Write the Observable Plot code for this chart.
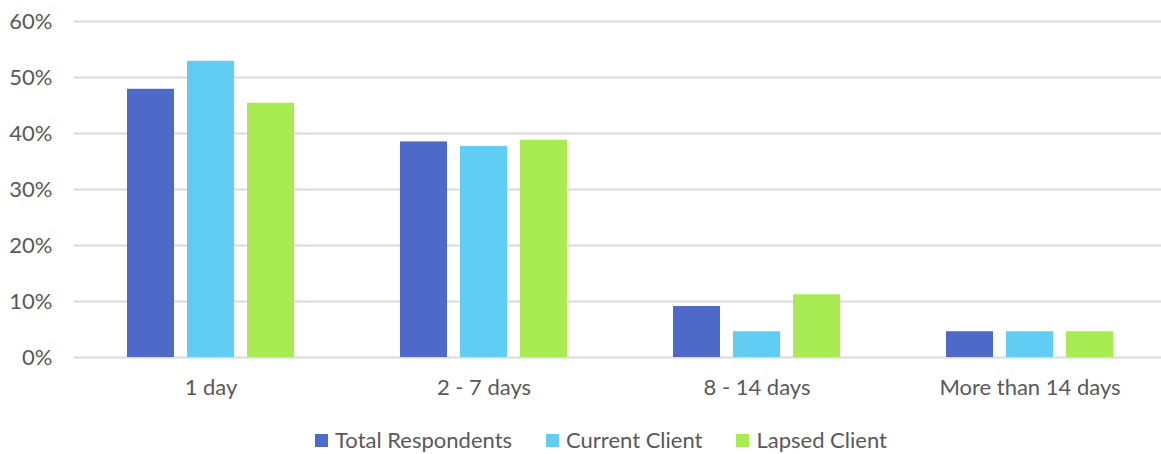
<!DOCTYPE html>
<html>
<head>
<meta charset="utf-8">
<script src="https://cdn.jsdelivr.net/npm/d3@7"></script>
<script src="https://cdn.jsdelivr.net/npm/@observablehq/plot@0.6"></script>
<style>
  html, body { margin: 0; padding: 0; background: #fff; overflow: hidden; }
  #chart { width: 1166px; }
  .legend {
    display: flex; justify-content: center; align-items: center;
    padding-left: 36px; margin-top: 17px; gap: 34px; line-height: 26px;
    font-family: Lato, "Open Sans", sans-serif; font-size: 22px; color: #595959;
  }
  .legend .item { display: flex; align-items: center; gap: 7px; }
  .legend .swatch { width: 13px; height: 13px; display: inline-block; }
</style>
</head>
<body>
<div id="chart"></div>
<script>
// Response time buckets and the share of respondents in each (percent)
const categories = ["1 day", "2 - 7 days", "8 - 14 days", "More than 14 days"];
const series = ["Total Respondents", "Current Client", "Lapsed Client"];
const totalRespondents = [47.9, 38.5, 9.1, 4.6];
const currentClient = [52.9, 37.7, 4.6, 4.6];
const lapsedClient = [45.4, 38.8, 11.2, 4.6];
const yTicks = [0, 10, 20, 30, 40, 50, 60];
const colors = ["#4f69c9", "#61cdf3", "#a9eb53"];

const seriesValues = [totalRespondents, currentClient, lapsedClient];
const data = [];
categories.forEach((c, i) => {
  series.forEach((s, j) => {
    data.push({category: c, series: s, value: seriesValues[j][i]});
  });
});

const chart = Plot.plot({
  width: 1166,
  height: 410,
  marginLeft: 74,
  marginRight: 0,
  marginTop: 21,
  marginBottom: 53,
  style: {fontFamily: "Lato, 'Open Sans', sans-serif", fontSize: "22px", color: "#595959", background: "#fff"},
  fx: {domain: categories, padding: 0, label: null},
  x: {domain: series, paddingInner: 0.215, paddingOuter: 0.864, axis: null},
  y: {domain: [0, 60], label: null},
  color: {domain: series, range: colors},
  marks: [
    Plot.gridY({ticks: yTicks, stroke: "#d9d9d9", strokeOpacity: 1, strokeWidth: 2}),
    Plot.barY(data, {fx: "category", x: "series", y: "value", fill: "series"}),
    Plot.axisY({ticks: yTicks, tickFormat: d => d + "%", tickSize: 0, tickPadding: 22, label: null, fontSize: 22}),
    Plot.axisFx({anchor: "bottom", tickSize: 0, tickPadding: 22, label: null, fontSize: 22})
  ]
});
document.getElementById("chart").appendChild(chart);

// Legend row beneath the chart
const legend = document.createElement("div");
legend.className = "legend";
series.forEach((s, j) => {
  const item = document.createElement("span");
  item.className = "item";
  const sw = document.createElement("span");
  sw.className = "swatch";
  sw.style.background = colors[j];
  const label = document.createElement("span");
  label.textContent = s;
  item.appendChild(sw);
  item.appendChild(label);
  legend.appendChild(item);
});
document.getElementById("chart").appendChild(legend);
</script>
</body>
</html>
